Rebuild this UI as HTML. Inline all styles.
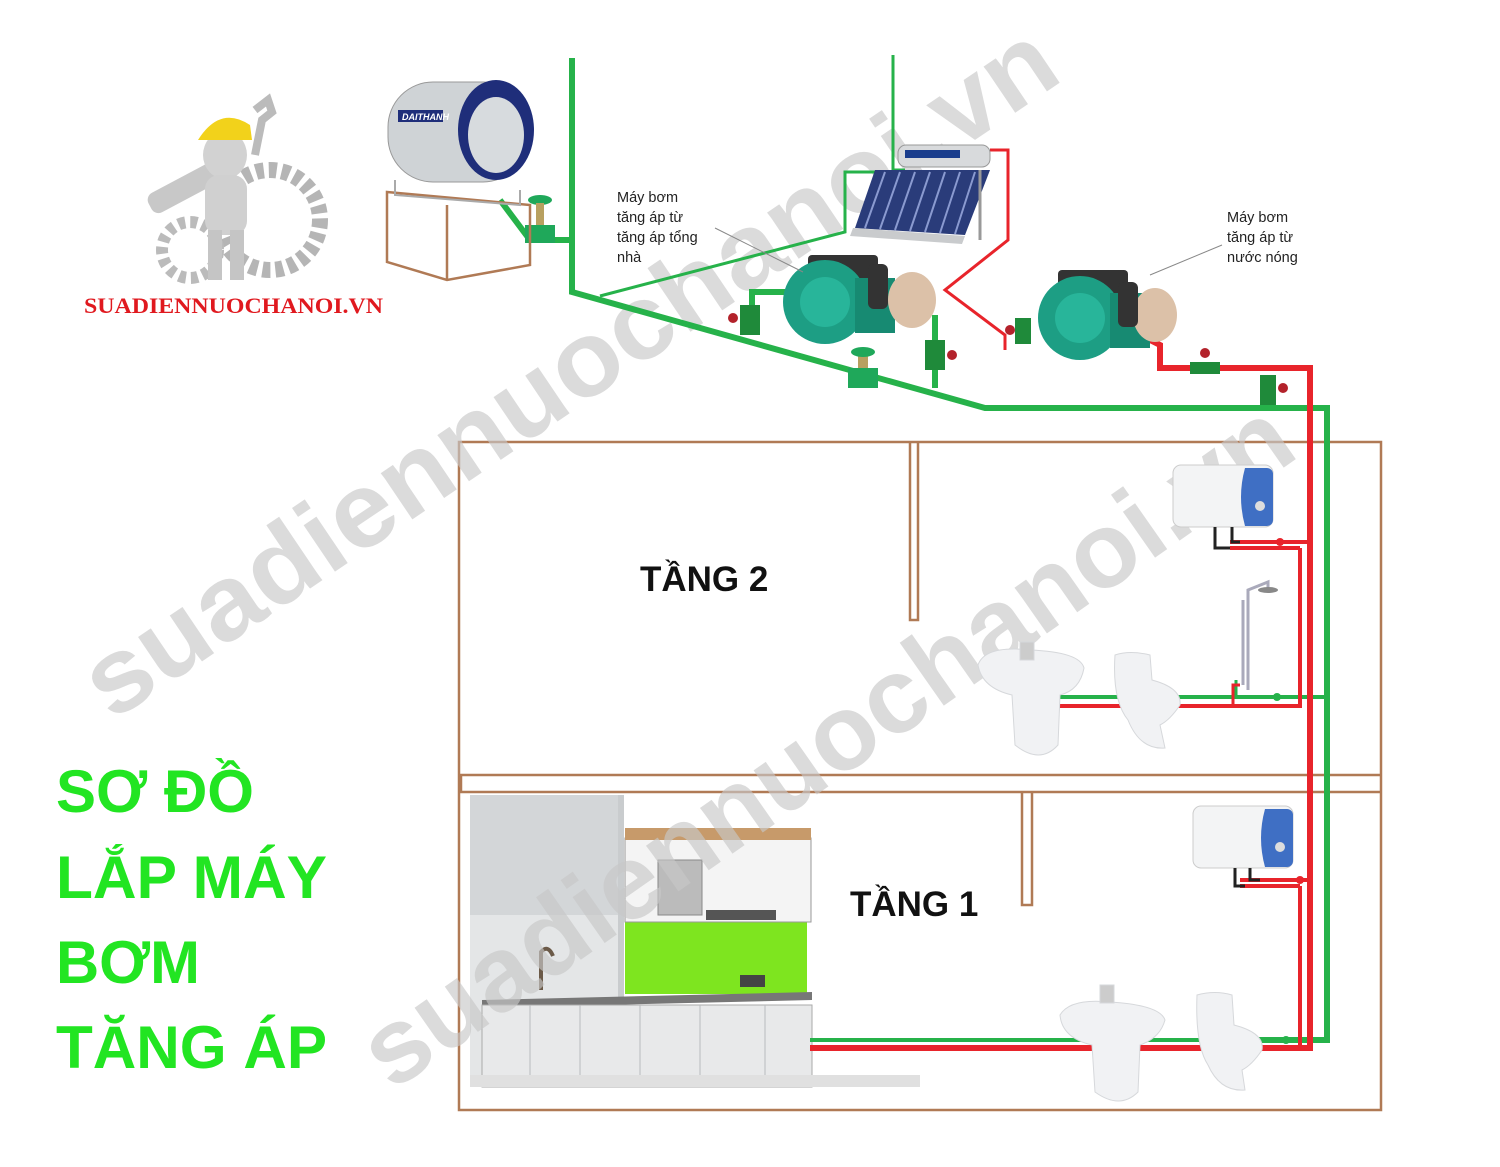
<!DOCTYPE html>
<html><head><meta charset="utf-8"><style>
html,body{margin:0;padding:0;background:#fff}
svg{display:block}
</style></head><body>
<svg width="1500" height="1167" viewBox="0 0 1500 1167" xmlns="http://www.w3.org/2000/svg" font-family="'Liberation Sans', 'DejaVu Sans', sans-serif">
<rect width="1500" height="1167" fill="#fff"/>

<!-- Building outline -->
<g fill="none" stroke="#b07a55" stroke-width="2.5">
  <rect x="459" y="442" width="922" height="668"/>
  <line x1="459" y1="775" x2="1381" y2="775"/>
  <line x1="459" y1="792" x2="1381" y2="792"/>
  <line x1="461" y1="775" x2="461" y2="792"/>
  <polyline points="910,442 910,620 918,620 918,442"/>
  <polyline points="1022,792 1022,905 1032,905 1032,792"/>
</g>

<!-- Kitchen -->
<g>
  <rect x="470" y="795" width="148" height="292" fill="#e4e6e7"/>
  <rect x="470" y="795" width="148" height="120" fill="#d3d6d8"/>
  <rect x="618" y="795" width="6" height="292" fill="#c9ccce"/>
  <rect x="625" y="922" width="182" height="72" fill="#7ee51f"/>
  <rect x="625" y="838" width="186" height="84" fill="#f4f4f4" stroke="#999"/>
  <rect x="625" y="828" width="186" height="12" fill="#c79a6a"/>
  <rect x="658" y="860" width="44" height="55" fill="#bbb" stroke="#888"/>
  <rect x="706" y="910" width="70" height="10" fill="#555"/>
  <polygon points="482,1000 812,992 812,1000 482,1008" fill="#777"/>
  <rect x="482" y="1005" width="330" height="82" fill="#e8e9ea" stroke="#aaa"/>
  <g stroke="#b9bcbe"><line x1="530" y1="1005" x2="530" y2="1087"/><line x1="580" y1="1005" x2="580" y2="1087"/><line x1="640" y1="1005" x2="640" y2="1087"/><line x1="700" y1="1005" x2="700" y2="1087"/><line x1="765" y1="1005" x2="765" y2="1087"/></g>
  <path d="M541,990 L541,952 Q548,944 553,956" stroke="#6b5a48" stroke-width="4" fill="none"/>
  <rect x="740" y="975" width="25" height="12" fill="#444"/>
  <rect x="470" y="1075" width="450" height="12" fill="#e0e0e0"/>
</g>

<!-- Watermarks -->
<g fill="#c8c8c8" font-weight="bold" font-size="106" opacity="0.65">
  <text transform="translate(112,722) rotate(-34)" textLength="1150" lengthAdjust="spacingAndGlyphs">suadiennuochanoi.vn</text>
  <text transform="translate(392,1092) rotate(-35)" textLength="1110" lengthAdjust="spacingAndGlyphs">suadiennuochanoi.vn</text>
</g>

<!-- Green pipes -->
<g fill="none" stroke="#26b24a" stroke-linejoin="miter">
  <polyline stroke-width="6" points="572,58 572,292 985,408 1327,408 1327,1040 1240,1040"/>
  <polyline stroke-width="3" points="893,55 893,170 905,170"/>
  <polyline stroke-width="3" points="600,296 845,232 845,172 905,172"/>
  <polyline stroke-width="6" points="752,335 752,292 800,292"/>
  <polyline stroke-width="6" points="935,315 935,388"/>
  <polyline stroke-width="6" points="500,200 530,240 572,240"/>
  <polyline stroke-width="4" points="1327,697 1060,697"/>
  <polyline stroke-width="4" points="1240,1040 810,1040"/>
  <polyline stroke-width="3" points="1236,697 1236,680"/>
</g>
<!-- Red pipes -->
<g fill="none" stroke="#e8242b">
  <polyline stroke-width="3" points="990,150 1008,150 1008,240 945,290 1005,335 1005,350"/>
  <polyline stroke-width="6" points="1150,340 1160,345 1160,368 1310,368 1310,1048 810,1048"/>
  <polyline stroke-width="4" points="1310,542 1230,542"/>
  <polyline stroke-width="4" points="1300,548 1300,706 1055,706"/>
  <polyline stroke-width="4" points="1230,548 1300,548"/>
  <polyline stroke-width="4" points="1310,880 1240,880"/>
  <polyline stroke-width="4" points="1300,886 1300,1048"/>
  <polyline stroke-width="4" points="1240,886 1300,886"/>
  <polyline stroke-width="3" points="1233,706 1233,685 1240,685"/>
</g>
<g fill="#e8242b"><circle cx="1280" cy="542" r="4"/><circle cx="1300" cy="880" r="4"/></g>
<g fill="#26b24a"><circle cx="1277" cy="697" r="4"/><circle cx="1286" cy="1040" r="4"/></g>

<!-- Valves -->
<g>
  <rect x="740" y="305" width="20" height="30" fill="#1f8a3a"/><circle cx="733" cy="318" r="5" fill="#b3222b"/>
  <rect x="925" y="340" width="20" height="30" fill="#1f8a3a"/><circle cx="952" cy="355" r="5" fill="#b3222b"/>
  <rect x="848" y="368" width="30" height="20" fill="#1fa85a"/><rect x="858" y="352" width="10" height="16" fill="#b8a060"/><ellipse cx="863" cy="352" rx="12" ry="5" fill="#1fa85a"/>
  <rect x="1015" y="318" width="16" height="26" fill="#1f8a3a"/><circle cx="1010" cy="330" r="5" fill="#b3222b"/>
  <rect x="1190" y="362" width="30" height="12" fill="#1f8a3a"/><circle cx="1205" cy="353" r="5" fill="#b3222b"/>
  <rect x="1260" y="375" width="16" height="30" fill="#1f8a3a"/><circle cx="1283" cy="388" r="5" fill="#b3222b"/>
  <rect x="525" y="225" width="30" height="18" fill="#1fa85a"/><ellipse cx="540" cy="200" rx="12" ry="5" fill="#1fa85a"/><rect x="536" y="203" width="8" height="22" fill="#b8a060"/>
</g>

<!-- Pumps -->
<g>
  <rect x="808" y="255" width="70" height="26" rx="4" fill="#333"/>
  <circle cx="825" cy="302" r="42" fill="#1d9e84"/>
  <circle cx="825" cy="302" r="25" fill="#28b59a"/>
  <rect x="855" y="278" width="40" height="55" fill="#178a72"/>
  <ellipse cx="912" cy="300" rx="24" ry="28" fill="#dcc1a8"/>
  <rect x="868" y="264" width="20" height="45" rx="6" fill="#333"/>

  <rect x="1058" y="270" width="70" height="26" rx="4" fill="#333"/>
  <circle cx="1080" cy="318" r="42" fill="#1d9e84"/>
  <circle cx="1080" cy="318" r="25" fill="#28b59a"/>
  <rect x="1110" y="293" width="40" height="55" fill="#178a72"/>
  <ellipse cx="1155" cy="315" rx="22" ry="27" fill="#dcc1a8"/>
  <rect x="1118" y="282" width="20" height="45" rx="6" fill="#333"/>
</g>

<!-- Solar heater -->
<g>
  <rect x="898" y="145" width="92" height="22" rx="8" fill="#d8dadc" stroke="#999"/>
  <rect x="905" y="150" width="55" height="8" fill="#1a3d8c"/>
  <polygon points="875,170 990,170 965,235 855,228" fill="#2a3c7a"/>
  <g stroke="#8a9ad0" stroke-width="2">
    <line x1="885" y1="172" x2="865" y2="228"/><line x1="900" y1="172" x2="880" y2="229"/><line x1="915" y1="172" x2="895" y2="230"/><line x1="930" y1="172" x2="910" y2="231"/><line x1="945" y1="172" x2="925" y2="232"/><line x1="960" y1="172" x2="940" y2="233"/><line x1="975" y1="172" x2="955" y2="234"/>
  </g>
  <polygon points="853,228 965,236 962,244 850,236" fill="#c9cbcd"/>
  <line x1="980" y1="170" x2="980" y2="240" stroke="#999" stroke-width="3"/>
</g>

<!-- Tank -->
<g>
  <polygon points="387,192 530,205 530,265 447,280 387,262" fill="none" stroke="#b07a55" stroke-width="2.5"/>
  <line x1="447" y1="205" x2="447" y2="280" stroke="#b07a55" stroke-width="2.5"/>
  <rect x="388" y="82" width="140" height="100" rx="45" fill="#cfd3d6" stroke="#999"/>
  <ellipse cx="496" cy="130" rx="38" ry="50" fill="#1f2e7a"/>
  <ellipse cx="496" cy="135" rx="28" ry="38" fill="#d7dbde"/>
  <rect x="398" y="110" width="45" height="12" fill="#1f2e7a"/>
  <text x="402" y="120" font-size="9" fill="#fff" font-weight="bold" font-style="italic">DAITHANH</text>
  <polyline points="395,180 395,195 520,205 520,190" fill="none" stroke="#aaa" stroke-width="2"/>
</g>

<!-- Worker -->
<g>
  <circle cx="270" cy="220" r="50" fill="none" stroke="#b5b5b5" stroke-width="16" stroke-dasharray="8 5"/>
  <circle cx="190" cy="250" r="28" fill="none" stroke="#bbb" stroke-width="12" stroke-dasharray="7 5"/>
  <rect x="145" y="175" width="85" height="22" rx="8" fill="#c8c8c8" transform="rotate(-28 188 186)"/>
  <ellipse cx="225" cy="155" rx="22" ry="24" fill="#d2d2d2"/>
  <path d="M198,140 Q220,105 250,125 L252,140 Z" fill="#f2d21b"/>
  <rect x="205" y="175" width="42" height="60" rx="14" fill="#d0d0d0"/>
  <rect x="208" y="230" width="14" height="50" fill="#c5c5c5"/><rect x="230" y="230" width="14" height="50" fill="#c5c5c5"/>
  <path d="M255,110 L268,100 L272,112 L262,120 L255,155" stroke="#bbb" stroke-width="8" fill="none"/>
</g>
<text x="84" y="313" font-family="'Liberation Serif', serif" font-weight="bold" font-size="22" fill="#e0191f" textLength="299" lengthAdjust="spacingAndGlyphs">SUADIENNUOCHANOI.VN</text>

<!-- Water heaters -->
<g>
  <rect x="1173" y="465" width="100" height="62" rx="8" fill="#f3f4f5" stroke="#ccc"/>
  <path d="M1245,468 h22 a6,6 0 0 1 6,6 v46 a6,6 0 0 1 -6,6 h-22 q-8,-29 0,-58 z" fill="#3f6fc4"/>
  <circle cx="1260" cy="506" r="5" fill="#ddd"/>
  <polyline points="1215,527 1215,548 1230,548" fill="none" stroke="#222" stroke-width="3"/>
  <polyline points="1232,527 1232,542 1240,542" fill="none" stroke="#222" stroke-width="3"/>
  <rect x="1193" y="806" width="100" height="62" rx="8" fill="#f3f4f5" stroke="#ccc"/>
  <path d="M1265,809 h22 a6,6 0 0 1 6,6 v46 a6,6 0 0 1 -6,6 h-22 q-8,-29 0,-58 z" fill="#3f6fc4"/>
  <circle cx="1280" cy="847" r="5" fill="#ddd"/>
  <polyline points="1235,868 1235,886 1245,886" fill="none" stroke="#222" stroke-width="3"/>
  <polyline points="1250,868 1250,880 1260,880" fill="none" stroke="#222" stroke-width="3"/>
</g>

<!-- Shower -->
<g stroke="#aab" stroke-width="3" fill="none">
  <polyline points="1248,690 1248,590 1268,582 1268,590"/>
  <line x1="1243" y1="600" x2="1243" y2="685"/>
</g>
<ellipse cx="1268" cy="590" rx="10" ry="3" fill="#888"/>

<!-- Sinks and toilets -->
<g fill="#f1f2f4" stroke="#d6d8db">
  <path d="M978,665 Q985,645 1030,650 Q1080,652 1084,668 Q1080,690 1060,695 L1058,745 Q1040,765 1015,745 L1012,695 Q982,688 978,665 Z"/>
  <rect x="1020" y="642" width="14" height="18" fill="#ccc"/>
  <path d="M1115,655 Q1130,650 1150,655 L1152,680 Q1182,688 1180,705 Q1170,720 1160,725 L1165,748 Q1140,750 1128,720 Q1112,700 1115,655 Z"/>
  <path d="M1060,1015 Q1070,998 1110,1002 Q1160,1005 1165,1020 Q1160,1038 1140,1045 L1138,1092 Q1120,1110 1095,1092 L1092,1045 Q1062,1038 1060,1015 Z"/>
  <rect x="1100" y="985" width="14" height="18" fill="#ccc"/>
  <path d="M1197,995 Q1215,990 1232,995 L1234,1025 Q1265,1033 1262,1050 Q1252,1065 1242,1070 L1245,1090 Q1220,1092 1208,1065 Q1195,1045 1197,995 Z"/>
</g>

<!-- Labels -->
<g font-size="14.5" fill="#222">
  <text x="617" y="202">Máy bơm</text>
  <text x="617" y="222">tăng áp từ</text>
  <text x="617" y="242">tăng áp tổng</text>
  <text x="617" y="262">nhà</text>
  <text x="1227" y="222">Máy bơm</text>
  <text x="1227" y="242">tăng áp từ</text>
  <text x="1227" y="262">nước nóng</text>
</g>
<line x1="715" y1="228" x2="803" y2="272" stroke="#888" stroke-width="1"/>
<line x1="1222" y1="245" x2="1150" y2="275" stroke="#888" stroke-width="1"/>

<text x="640" y="591" font-size="35" font-weight="bold" fill="#111">TẦNG 2</text>
<text x="850" y="916" font-size="35" font-weight="bold" fill="#111">TẦNG 1</text>

<g font-size="60" font-weight="bold" fill="#22e522">
  <text x="56" y="812" textLength="198" lengthAdjust="spacingAndGlyphs">SƠ ĐỒ</text>
  <text x="56" y="898" textLength="271" lengthAdjust="spacingAndGlyphs">LẮP MÁY</text>
  <text x="56" y="983" textLength="144" lengthAdjust="spacingAndGlyphs">BƠM</text>
  <text x="56" y="1068" textLength="271" lengthAdjust="spacingAndGlyphs">TĂNG ÁP</text>
</g>
</svg>
</body></html>
